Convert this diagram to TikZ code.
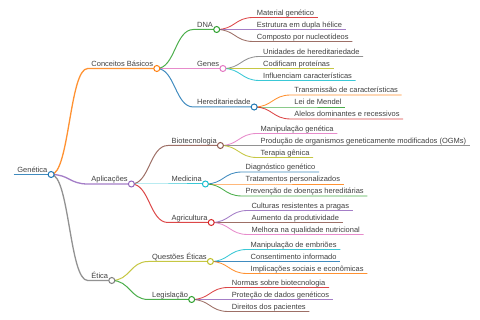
\documentclass[tikz,border=0pt]{standalone}
\usepackage{fontspec}
\setmainfont{Liberation Sans}
\usetikzlibrary{positioning,calc}
\definecolor{mmblue}{HTML}{1F77B4}
\definecolor{mmorange}{HTML}{FF7F0E}
\definecolor{mmgreen}{HTML}{2CA02C}
\definecolor{mmred}{HTML}{D62728}
\definecolor{mmpurple}{HTML}{9467BD}
\definecolor{mmbrown}{HTML}{8C564B}
\definecolor{mmpink}{HTML}{E377C2}
\definecolor{mmgray}{HTML}{7F7F7F}
\definecolor{mmolive}{HTML}{BCBD22}
\definecolor{mmcyan}{HTML}{17BECF}
\begin{document}
\begin{tikzpicture}[
      x=1pt, y=1pt,
      node distance=36.6pt,
      mm/.style={font=\fontsize{7.5}{9}\selectfont, text=black!75, inner xsep=3.5pt, inner ysep=0pt, text height=5.6pt, text depth=1.8pt, anchor=south west},
      branchof/.style={right=of #1.south east, anchor=south west},
      hlink/.style={to path={let \p1=(\tikztostart), \p2=(\tikztotarget), \n1={0.5*(\x2-\x1)} in .. controls +(\n1,0pt) and +(-\n1,0pt) .. (\tikztotarget)}},
      l0/.style={line width=1.8pt, draw opacity=0.85},
      l1/.style={line width=1.3pt, draw opacity=0.85},
      l2/.style={line width=1pt, draw opacity=0.85},
      l3/.style={line width=0.85pt, draw opacity=0.85},
      dot/.style={draw=#1, fill=white, line width=1pt}
  ]
      \useasboundingbox (0,0) rectangle (480,-320);

      % Raiz
      \node[mm] (gen) at (13.7,-174.5) {Genética};

      % Ramos principais
      \node[mm, branchof=gen, yshift=106pt] (con) {Conceitos Básicos};
      \node[mm, branchof=gen, yshift=-9.5pt] (apl) {Aplicações};
      \node[mm, branchof=gen, yshift=-106pt] (eti) {Ética};

      % Conceitos Básicos
      \node[mm, branchof=con, yshift=39pt] (dna) {DNA};
      \node[mm, branchof=con] (gns) {Genes};
      \node[mm, branchof=con, yshift=-38.5pt] (her) {Hereditariedade};

      \node[mm, branchof=dna, yshift=12pt] (mat) {Material genético};
      \node[mm, branchof=dna] (est) {Estrutura em dupla hélice};
      \node[mm, branchof=dna, yshift=-12pt] (cmp) {Composto por nucleotídeos};

      \node[mm, branchof=gns, yshift=12pt] (uni) {Unidades de hereditariedade};
      \node[mm, branchof=gns] (cod) {Codificam proteínas};
      \node[mm, branchof=gns, yshift=-12pt] (inf) {Influenciam características};

      \node[mm, branchof=her, yshift=12pt] (tra) {Transmissão de características};
      \node[mm, branchof=her] (lei) {Lei de Mendel};
      \node[mm, branchof=her, yshift=-12pt] (ale) {Alelos dominantes e recessivos};

      % Aplicações
      \node[mm, branchof=apl, yshift=38.5pt] (bio) {Biotecnologia};
      \node[mm, branchof=apl] (med) {Medicina};
      \node[mm, branchof=apl, yshift=-38.5pt] (agr) {Agricultura};

      \node[mm, branchof=bio, yshift=12pt] (mgn) {Manipulação genética};
      \node[mm, branchof=bio] (ogm) {Produção de organismos geneticamente modificados (OGMs)};
      \node[mm, branchof=bio, yshift=-12pt] (ter) {Terapia gênica};

      \node[mm, branchof=med, yshift=12pt] (dia) {Diagnóstico genético};
      \node[mm, branchof=med] (tps) {Tratamentos personalizados};
      \node[mm, branchof=med, yshift=-12pt] (pre) {Prevenção de doenças hereditárias};

      \node[mm, branchof=agr, yshift=12pt] (cul) {Culturas resistentes a pragas};
      \node[mm, branchof=agr] (aum) {Aumento da produtividade};
      \node[mm, branchof=agr, yshift=-12pt] (mel) {Melhora na qualidade nutricional};

      % Ética
      \node[mm, branchof=eti, yshift=19pt] (que) {Questões Éticas};
      \node[mm, branchof=eti, yshift=-19pt] (leg) {Legislação};

      \node[mm, branchof=que, yshift=12pt] (emb) {Manipulação de embriões};
      \node[mm, branchof=que] (cns) {Consentimento informado};
      \node[mm, branchof=que, yshift=-12pt] (imp) {Implicações sociais e econômicas};

      \node[mm, branchof=leg, yshift=12pt] (nor) {Normas sobre biotecnologia};
      \node[mm, branchof=leg] (pro) {Proteção de dados genéticos};
      \node[mm, branchof=leg, yshift=-12pt] (dir) {Direitos dos pacientes};

      % Ligações
      \draw[l0, mmblue] (gen.south west) -- (gen.south east);
      \draw[l1, mmorange] (gen.south east) to[hlink] (con.south west) -- (con.south east);
      \draw[l1, mmpurple] (gen.south east) to[hlink] (apl.south west) -- (apl.south east);
      \draw[l1, mmgray] (gen.south east) to[hlink] (eti.south west) -- (eti.south east);

      \draw[l2, mmgreen] (con.south east) to[hlink] (dna.south west) -- (dna.south east);
      \draw[l2, mmpink] (con.south east) to[hlink] (gns.south west) -- (gns.south east);
      \draw[l2, mmblue] (con.south east) to[hlink] (her.south west) -- (her.south east);
      \draw[l3, mmred] (dna.south east) to[hlink] (mat.south west) -- (mat.south east);
      \draw[l3, mmpurple] (dna.south east) to[hlink] (est.south west) -- (est.south east);
      \draw[l3, mmbrown] (dna.south east) to[hlink] (cmp.south west) -- (cmp.south east);
      \draw[l3, mmgray] (gns.south east) to[hlink] (uni.south west) -- (uni.south east);
      \draw[l3, mmolive] (gns.south east) to[hlink] (cod.south west) -- (cod.south east);
      \draw[l3, mmcyan] (gns.south east) to[hlink] (inf.south west) -- (inf.south east);
      \draw[l3, mmorange] (her.south east) to[hlink] (tra.south west) -- (tra.south east);
      \draw[l3, mmgreen] (her.south east) to[hlink] (lei.south west) -- (lei.south east);
      \draw[l3, mmred] (her.south east) to[hlink] (ale.south west) -- (ale.south east);

      \draw[l2, mmbrown] (apl.south east) to[hlink] (bio.south west) -- (bio.south east);
      \draw[l2, mmcyan] (apl.south east) to[hlink] (med.south west) -- (med.south east);
      \draw[l2, mmred] (apl.south east) to[hlink] (agr.south west) -- (agr.south east);
      \draw[l3, mmpink] (bio.south east) to[hlink] (mgn.south west) -- (mgn.south east);
      \draw[l3, mmgray] (bio.south east) to[hlink] (ogm.south west) -- (ogm.south east);
      \draw[l3, mmolive] (bio.south east) to[hlink] (ter.south west) -- (ter.south east);
      \draw[l3, mmblue] (med.south east) to[hlink] (dia.south west) -- (dia.south east);
      \draw[l3, mmorange] (med.south east) to[hlink] (tps.south west) -- (tps.south east);
      \draw[l3, mmgreen] (med.south east) to[hlink] (pre.south west) -- (pre.south east);
      \draw[l3, mmpurple] (agr.south east) to[hlink] (cul.south west) -- (cul.south east);
      \draw[l3, mmbrown] (agr.south east) to[hlink] (aum.south west) -- (aum.south east);
      \draw[l3, mmpink] (agr.south east) to[hlink] (mel.south west) -- (mel.south east);

      \draw[l2, mmolive] (eti.south east) to[hlink] (que.south west) -- (que.south east);
      \draw[l2, mmgreen] (eti.south east) to[hlink] (leg.south west) -- (leg.south east);
      \draw[l3, mmcyan] (que.south east) to[hlink] (emb.south west) -- (emb.south east);
      \draw[l3, mmblue] (que.south east) to[hlink] (cns.south west) -- (cns.south east);
      \draw[l3, mmorange] (que.south east) to[hlink] (imp.south west) -- (imp.south east);
      \draw[l3, mmred] (leg.south east) to[hlink] (nor.south west) -- (nor.south east);
      \draw[l3, mmpurple] (leg.south east) to[hlink] (pro.south west) -- (pro.south east);
      \draw[l3, mmbrown] (leg.south east) to[hlink] (dir.south west) -- (dir.south east);

      % Círculos dos nós com filhos
      \draw[dot=mmblue] (gen.south east) circle[radius=3pt];
      \draw[dot=mmorange] (con.south east) circle[radius=3pt];
      \draw[dot=mmpurple] (apl.south east) circle[radius=3pt];
      \draw[dot=mmgray] (eti.south east) circle[radius=3pt];
      \draw[dot=mmgreen] (dna.south east) circle[radius=3pt];
      \draw[dot=mmpink] (gns.south east) circle[radius=3pt];
      \draw[dot=mmblue] (her.south east) circle[radius=3pt];
      \draw[dot=mmbrown] (bio.south east) circle[radius=3pt];
      \draw[dot=mmcyan] (med.south east) circle[radius=3pt];
      \draw[dot=mmred] (agr.south east) circle[radius=3pt];
      \draw[dot=mmolive] (que.south east) circle[radius=3pt];
      \draw[dot=mmgreen] (leg.south east) circle[radius=3pt];
  \end{tikzpicture}
\end{document}
